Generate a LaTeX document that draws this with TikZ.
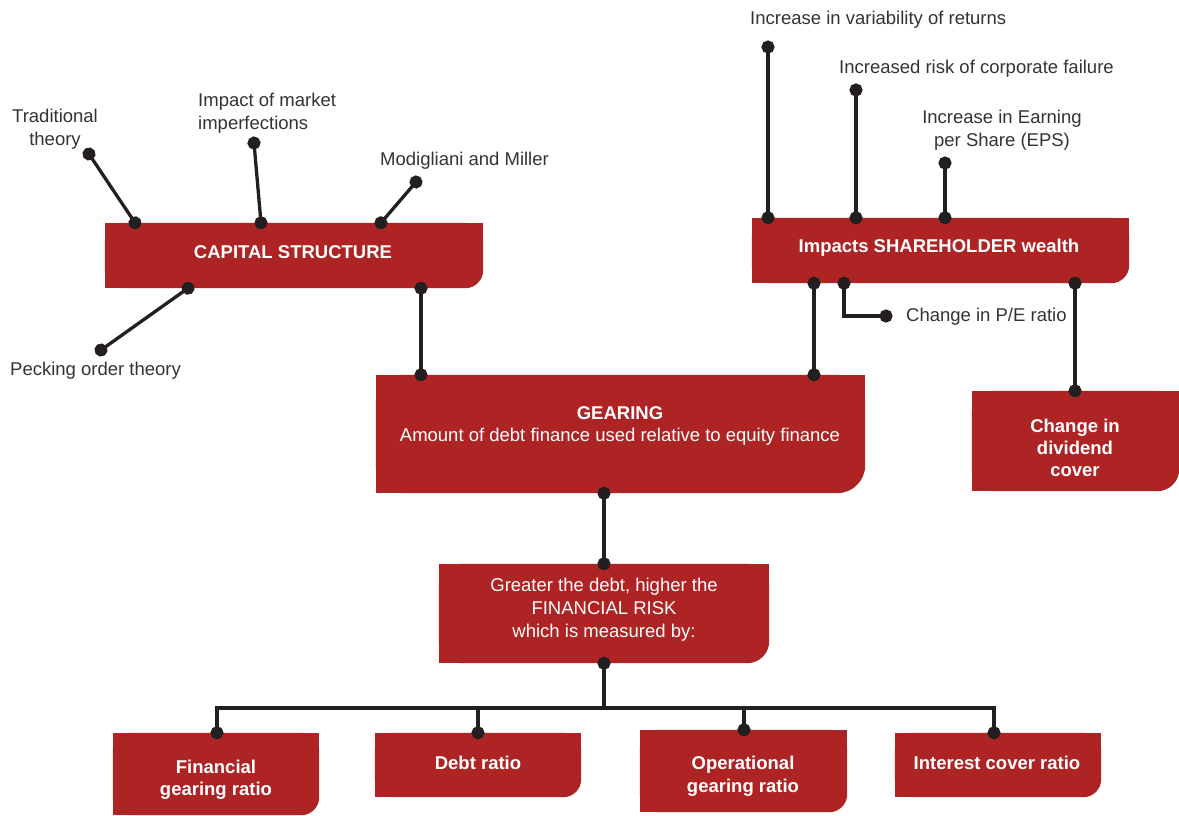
\documentclass[tikz,border=0pt]{standalone}
\usepackage{fontspec}
\setmainfont{Liberation Sans}
\usetikzlibrary{arrows.meta}
\definecolor{boxred}{HTML}{AE2424}
\definecolor{ink}{HTML}{231F20}
\definecolor{labelgray}{HTML}{333333}
\newcommand{\diagfont}{\fontsize{18.5}{22.5}\selectfont}

\begin{document}
\begin{tikzpicture}[x=1pt,y=-1pt,
  panel/.style={rectangle, inner sep=0pt, draw=none},
  paneltext/.style={text=white, font=\diagfont\bfseries, align=center, inner sep=0pt},
  panelplain/.style={text=white, font=\diagfont, align=center, inner sep=0pt},
  note/.style={text=labelgray, font=\diagfont, inner sep=0pt},
  wire/.style={draw=ink, line width=3.3pt},
  pinned/.style={wire, {Circle[length=13pt]}-{Circle[length=13pt]}, shorten <=-6.5pt, shorten >=-6.5pt},
  pinstart/.style={wire, {Circle[length=13pt]}-, shorten <=-6.5pt},
  pinend/.style={wire, -{Circle[length=13pt]}, shorten >=-6.5pt}]

\useasboundingbox (0,0) rectangle (1179,815);

% ---------- panel outlines ----------
\node[panel, minimum width=378pt, minimum height=65pt]  (cs)   at (294,255.5) {};
\node[panel, minimum width=377pt, minimum height=65pt]  (sh)   at (940.5,250.5) {};
\node[panel, minimum width=489pt, minimum height=118pt] (gear) at (620.5,434) {};
\node[panel, minimum width=207pt, minimum height=100pt] (div)  at (1075.5,441) {};
\node[panel, minimum width=330pt, minimum height=99pt]  (risk) at (604,613.5) {};
\node[panel, minimum width=206pt, minimum height=82pt]  (fgr)  at (216,774) {};
\node[panel, minimum width=206pt, minimum height=64pt]  (debt) at (478,765) {};
\node[panel, minimum width=207pt, minimum height=82pt]  (ogr)  at (743.5,771) {};
\node[panel, minimum width=206pt, minimum height=64pt]  (icr)  at (998,765) {};

% red fill, only the lower right corner rounded
\foreach \n/\r in {cs/18, sh/18, gear/28, div/22, risk/22, fgr/18, debt/18, ogr/18, icr/18} {
  \fill[boxred, rounded corners=\r pt] (\n.north west) rectangle (\n.south east);
  \fill[boxred] (\n.north west) rectangle ([xshift=-\r pt]\n.south east);
  \fill[boxred] (\n.north west) rectangle ([yshift=\r pt]\n.south east);
}

% ---------- panel texts ----------
\node[paneltext] (cs-t)   at (293,252) {CAPITAL STRUCTURE};
\node[paneltext] (sh-t)   at (939,248) {Impacts SHAREHOLDER wealth};
\node[panelplain] (gear-t) at (620,426) {\textbf{GEARING}\\Amount of debt finance used relative to equity finance};
\node[panelplain, font=\fontsize{18.5}{22}\selectfont\bfseries] (div-t) at (1075,448) {Change in\\dividend\\cover};
\node[panelplain, font=\fontsize{18.5}{23}\selectfont] (risk-t) at (604,610) {Greater the debt, higher the\\FINANCIAL RISK\\which is measured by:};
\node[panelplain, font=\fontsize{18.5}{22}\selectfont\bfseries] (fgr-t) at (216,780) {Financial\\gearing ratio};
\node[paneltext] (debt-t) at (478,763) {Debt ratio};
\node[panelplain, font=\fontsize{18.5}{23}\selectfont\bfseries] (ogr-t) at (743,776) {Operational\\gearing ratio};
\node[paneltext] (icr-t)  at (997,763) {Interest cover ratio};

% ---------- outside labels ----------
\node[note, align=center] (trad) at (55,129) {Traditional\\theory};
\node[note, align=left, anchor=west] (imp) at (198,113) {Impact of market\\imperfections};
\node[note, anchor=west, text height=13.5pt, text depth=3.5pt] (mm)   at (380,160) {Modigliani and Miller};
\node[note, anchor=west, text height=13.5pt, text depth=3.5pt] (peck) at (10,370.5) {Pecking order theory};
\node[note, anchor=west, text height=13.5pt, text depth=3.5pt] (var)  at (750,19) {Increase in variability of returns};
\node[note, anchor=west, text height=13.5pt, text depth=3.5pt] (fail) at (839,68) {Increased risk of corporate failure};
\node[note, align=center] (eps) at (1002,130) {Increase in Earning\\per Share (EPS)};
\node[note, anchor=west, text height=13.5pt, text depth=3.5pt] (pe)   at (906,316) {Change in P/E ratio};

% free ends of the label connectors
\coordinate (trad-p) at (89,154);
\coordinate (imp-p)  at (254,143);
\coordinate (mm-p)   at (416,182);
\coordinate (peck-p) at (101,350);
\coordinate (var-p)  at (768,47);
\coordinate (fail-p) at (856,90);
\coordinate (eps-p)  at (945,163);
\coordinate (pe-p)   at ([xshift=-20pt]pe.west);
\coordinate (bus)    at (604,708);

% ---------- connectors ----------
\draw[pinned] (trad-p) -- (135,0 |- cs.north);
\draw[pinned] (imp-p)  -- (261,0 |- cs.north);
\draw[pinned] (mm-p)   -- (381,0 |- cs.north);
\draw[pinned] (188,0 |- cs.south) -- (peck-p);
\draw[pinned] (421,0 |- cs.south) -- (421,0 |- gear.north);

\draw[pinned] (var-p)  -- (768,0 |- sh.north);
\draw[pinned] (fail-p) -- (856,0 |- sh.north);
\draw[pinned] (eps-p)  -- (945,0 |- sh.north);
\draw[pinned] (814,0 |- sh.south) -- (814,0 |- gear.north);
\draw[pinned] (844,0 |- sh.south) |- (pe-p);
\draw[pinned] (1075,0 |- sh.south) -- (1075,0 |- div.north);

\draw[pinned] (604,0 |- gear.south) -- (604,0 |- risk.north);
\draw[pinstart] (604,0 |- risk.south) -- (bus);
\draw[pinned] (217,0 |- fgr.north) |- (bus) -| (994,0 |- icr.north);
\draw[pinend] (478,0 |- bus) -- (478,0 |- debt.north);
\draw[pinend] (744,0 |- bus) -- (744,0 |- ogr.north);
\end{tikzpicture}
\end{document}
